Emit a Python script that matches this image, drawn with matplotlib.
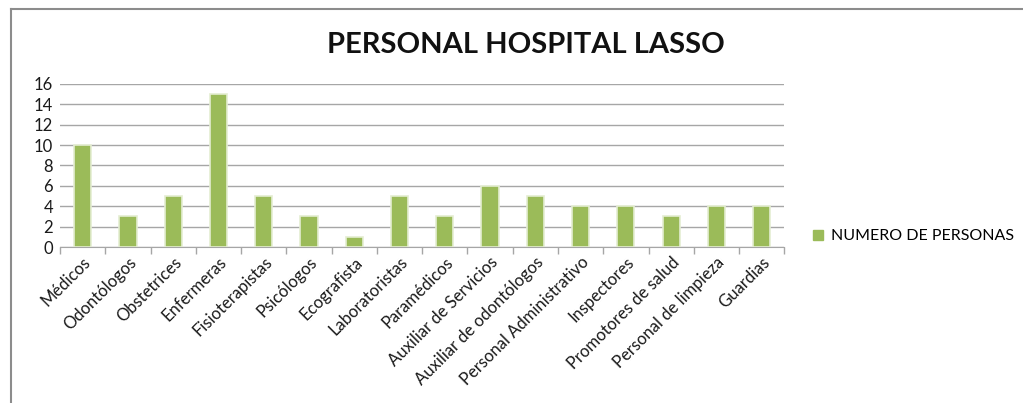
import numpy as np
import matplotlib.pyplot as plt
from matplotlib.lines import Line2D

# Datos del personal
categorias = ['Médicos', 'Odontólogos', 'Obstetrices', 'Enfermeras', 'Fisioterapistas',
              'Psicólogos', 'Ecografista', 'Laboratoristas', 'Paramédicos',
              'Auxiliar de Servicios', 'Auxiliar de odontólogos', 'Personal Administrativo',
              'Inspectores', 'Promotores de salud', 'Personal de limpieza', 'Guardias']
personas = [10, 3, 5, 15, 5, 3, 1, 5, 3, 6, 5, 4, 4, 3, 4, 4]
serie = 'NUMERO DE PERSONAS'

plt.rcParams['font.family'] = ['Lato', 'DejaVu Sans']

fig = plt.figure(figsize=(10.23, 4.03), dpi=100)
ax = fig.add_axes([0.0587, 0.387, 0.708, 0.405])

x = np.arange(len(categorias))
ax.bar(x, personas, width=0.38, color='#9BBB59', edgecolor='#E4EDD2',
       linewidth=1.2, zorder=3, label=serie)

ax.set_xlim(-0.5, len(categorias) - 0.5)
ax.set_ylim(0, 16)
ax.set_yticks(range(0, 17, 2))
ax.tick_params(axis='y', length=0, labelsize=12, pad=5, colors='#1a1a1a')
ax.yaxis.grid(True, color='#A6A6A6', linewidth=1, zorder=0)

ax.set_xticks(x)
ax.set_xticklabels(categorias, rotation=45, ha='right', rotation_mode='anchor',
                   fontsize=12, color='#1a1a1a')
ax.tick_params(axis='x', length=0, pad=5)
# marcas entre categorias
ax.set_xticks(np.arange(-0.5, len(categorias), 1), minor=True)
ax.tick_params(axis='x', which='minor', length=5, color='#A6A6A6', width=1)

for s in ['top', 'right', 'left']:
    ax.spines[s].set_visible(False)
ax.spines['bottom'].set_color('#A6A6A6')

fig.text(0.514, 0.888, 'PERSONAL HOSPITAL LASSO', ha='center', va='center',
         fontsize=21, fontweight='bold', color='#111111')

handle = Line2D([], [], marker='s', color='#9BBB59', linestyle='', markersize=7)
fig.legend([handle], [serie], loc='center left', bbox_to_anchor=(0.792, 0.414),
           frameon=False, fontsize=11.5, handlelength=1.0, handletextpad=0.3,
           borderpad=0, borderaxespad=0)

# borde del grafico
fig.add_artist(Line2D([0.0105, 0.0105], [0.0, 0.977], color='#8C8C8C', linewidth=1.5,
                      transform=fig.transFigure))
fig.add_artist(Line2D([0.0105, 1.0], [0.977, 0.977], color='#8C8C8C', linewidth=1.5,
                      transform=fig.transFigure))

fig.savefig('out.png', dpi=100)
